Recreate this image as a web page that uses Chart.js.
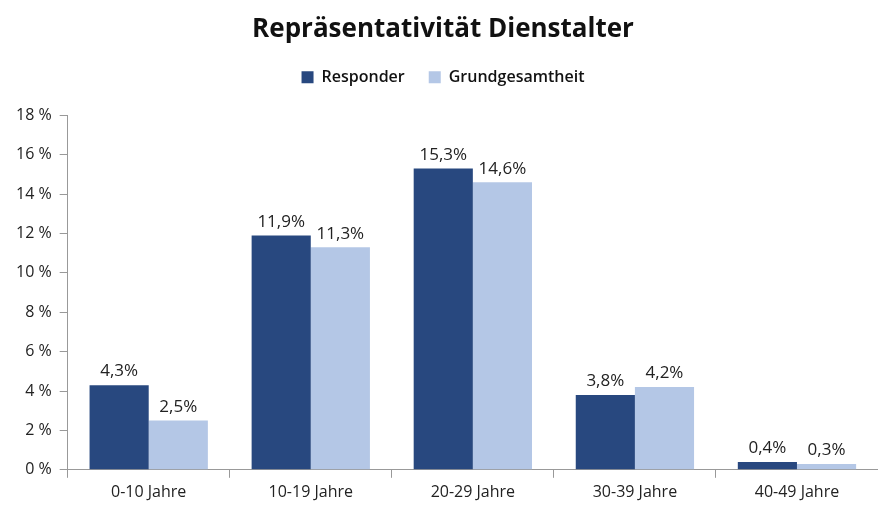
<!DOCTYPE html>
<html>
<head>
<meta charset="utf-8">
<script src="https://cdn.jsdelivr.net/npm/chart.js@4"></script>
<style>
  html, body { margin: 0; padding: 0; background: #fff; }
  #wrap { width: 878px; height: 507px; }
</style>
</head>
<body>
<div id="wrap"><canvas id="graph"></canvas></div>
<script>
const categories = ["0-10 Jahre", "10-19 Jahre", "20-29 Jahre", "30-39 Jahre", "40-49 Jahre"];
const responder = [4.3, 11.9, 15.3, 3.8, 0.4];
const grundgesamtheit = [2.5, 11.3, 14.6, 4.2, 0.3];
const y_ticks = [0, 2, 4, 6, 8, 10, 12, 14, 16, 18];

// Werte über den Balken
const valueLabels = {
  id: "valueLabels",
  afterDatasetsDraw(chart) {
    const ctx = chart.ctx;
    ctx.save();
    ctx.font = "17px 'Open Sans'";
    ctx.fillStyle = "#222";
    ctx.textAlign = "center";
    ctx.textBaseline = "bottom";
    chart.data.datasets.forEach((ds, i) => {
      chart.getDatasetMeta(i).data.forEach((bar, j) => {
        ctx.fillText(ds.data[j].toFixed(1).replace(".", ",") + "%", bar.x, bar.y - 5);
      });
    });
    ctx.restore();
  },
};

let config = {
  type: "bar",
  data: {
    labels: categories,
    datasets: [
      {
        label: "Responder",
        data: responder,
        backgroundColor: "#28487F",
        categoryPercentage: 0.73,
        barPercentage: 1.0,
      },
      {
        label: "Grundgesamtheit",
        data: grundgesamtheit,
        backgroundColor: "#B4C7E6",
        categoryPercentage: 0.73,
        barPercentage: 1.0,
      },
    ],
  },
  options: {
    responsive: true,
    maintainAspectRatio: false,
    animation: false,
    layout: { padding: { left: 8, right: 0, top: 4, bottom: 0 } },
    plugins: {
      title: {
        display: true,
        text: "Repräsentativität Dienstalter",
        color: "#111",
        font: { family: "Open Sans", size: 26, weight: "bold" },
        padding: { top: 10, bottom: 0 },
      },
      // Abstand zwischen Legende und Diagramm
      subtitle: {
        display: true,
        text: "",
        weight: 500,
        font: { size: 1 },
        padding: { top: 0, bottom: 19 },
      },
      legend: {
        labels: {
          boxWidth: 12,
          boxHeight: 12,
          color: "#111",
          padding: 24,
          font: { family: "Open Sans", size: 16, weight: "600" },
        },
      },
      tooltip: { enabled: false },
    },
    scales: {
      x: {
        offset: true,
        grid: {
          offset: true,
          drawOnChartArea: false,
          tickLength: 8,
          color: "#999",
        },
        border: { color: "#999" },
        ticks: {
          color: "#222",
          padding: 5,
          font: { family: "Open Sans", size: 16 },
        },
      },
      y: {
        min: 0,
        max: 18,
        afterBuildTicks: (axis) => {
          axis.ticks = y_ticks.map((v) => ({ value: v }));
        },
        grid: {
          drawOnChartArea: false,
          tickLength: 8,
          color: "#999",
        },
        border: { color: "#999" },
        ticks: {
          color: "#222",
          padding: 8,
          font: { family: "Open Sans", size: 16 },
          callback: (v) => v + " %",
        },
      },
    },
  },
  plugins: [valueLabels],
};

window.onload = () => {
  new Chart(document.getElementById("graph"), config);
};
</script>
</body>
</html>
